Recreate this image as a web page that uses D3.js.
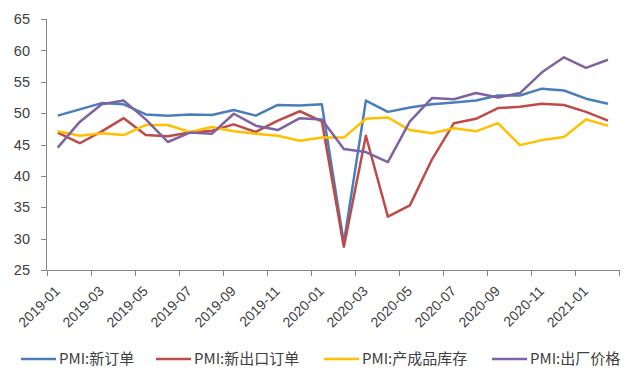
<!DOCTYPE html>
<html><head><meta charset="utf-8">
<script src="https://cdn.jsdelivr.net/npm/d3@7"></script>
<style>
html,body{margin:0;padding:0;background:#fff;}
svg{display:block;}
text{font-family:"Liberation Sans","Noto Sans CJK SC",sans-serif;fill:#404040;}
</style></head>
<body>
<svg id="chart" width="641" height="385"></svg>
<script>
const months = ["2019-01","2019-02","2019-03","2019-04","2019-05","2019-06","2019-07","2019-08","2019-09","2019-10","2019-11","2019-12",
"2020-01","2020-02","2020-03","2020-04","2020-05","2020-06","2020-07","2020-08","2020-09","2020-10","2020-11","2020-12","2021-01","2021-02"];
const newOrders = [49.6,50.6,51.6,51.4,49.8,49.6,49.8,49.7,50.5,49.6,51.3,51.2,51.4,29.3,52.0,50.2,50.9,51.4,51.7,52.0,52.8,52.8,53.9,53.6,52.3,51.5];
const newExportOrders = [46.9,45.2,47.1,49.2,46.5,46.3,46.9,47.2,48.2,47.0,48.8,50.3,48.7,28.7,46.4,33.5,35.3,42.6,48.4,49.1,50.8,51.0,51.5,51.3,50.2,48.8];
const finishedInventory = [47.1,46.4,46.8,46.5,48.1,48.1,47.0,47.8,47.1,46.7,46.4,45.6,46.1,46.1,49.1,49.3,47.3,46.8,47.6,47.1,48.4,44.9,45.7,46.2,49.0,48.0];
const outputPrices = [44.5,48.6,51.4,52.0,49.0,45.4,46.9,46.7,49.9,48.0,47.3,49.2,49.0,44.3,43.8,42.2,48.7,52.4,52.2,53.2,52.5,53.2,56.5,58.9,57.2,58.5];
const yTicks = [25,30,35,40,45,50,55,60,65];
const seriesNames = ["PMI:新订单","PMI:新出口订单","PMI:产成品库存","PMI:出厂价格"];
const seriesColors = ["#4A7EBB","#BE4B48","#FFC000","#7F62A1"];
const seriesValues = [newOrders,newExportOrders,finishedInventory,outputPrices];

const svg = d3.select("#chart");
const x = d3.scaleBand().domain(months).range([46.7, 619]).paddingInner(0).paddingOuter(0);
const y = d3.scaleLinear().domain([25,65]).range([270, 19]);
const axisColor = "#868686";

// y axis
const ya = svg.append("g");
ya.append("line").attr("x1",46.5).attr("x2",46.5).attr("y1",y(65)).attr("y2",y(25)).attr("stroke",axisColor);
yTicks.forEach(t=>{
  ya.append("line").attr("x1",41).attr("x2",46.5).attr("y1",Math.round(y(t))+0.5).attr("y2",Math.round(y(t))+0.5).attr("stroke",axisColor);
  ya.append("text").attr("x",30).attr("y",y(t)).attr("dy","0.36em").attr("text-anchor","end").style("font-size","14.5px").text(t);
});

// x axis
const xa = svg.append("g");
xa.append("line").attr("x1",x.range()[0]).attr("x2",x.range()[1]).attr("y1",270.5).attr("y2",270.5).attr("stroke",axisColor);
const tickPos = months.filter((m,i)=>i%2===0).map(m=>x(m)).concat([x.range()[1]]);
tickPos.forEach(p=>{
  xa.append("line").attr("x1",Math.round(p)+0.5).attr("x2",Math.round(p)+0.5).attr("y1",270).attr("y2",276).attr("stroke",axisColor);
});
months.filter((m,i)=>i%2===0).forEach(m=>{
  const cx = x(m)+x.bandwidth()/2 + 3;
  xa.append("text").attr("transform",`translate(${cx},${292}) rotate(-45)`)
    .attr("text-anchor","end").style("font-size","14px").text(m);
});

// lines
const line = d3.line().x((d,i)=>x(months[i])+x.bandwidth()/2).y(d=>y(d));
seriesValues.forEach((vals,k)=>{
  svg.append("path").datum(vals).attr("d",line).attr("fill","none")
    .attr("stroke",seriesColors[k]).attr("stroke-width",2.5).attr("stroke-linejoin","round");
});

// legend
const legendX = [21,156,324,492];
seriesNames.forEach((n,k)=>{
  const g = svg.append("g").attr("transform",`translate(${legendX[k]},359)`);
  g.append("line").attr("x1",0).attr("x2",35).attr("y1",0).attr("y2",0).attr("stroke",seriesColors[k]).attr("stroke-width",2.5);
  g.append("text").attr("x",38).attr("y",0).attr("dy","0.36em").style("font-size","15px").style("font-family","'Noto Sans CJK SC',sans-serif").text(n);
});
</script>
</body></html>
